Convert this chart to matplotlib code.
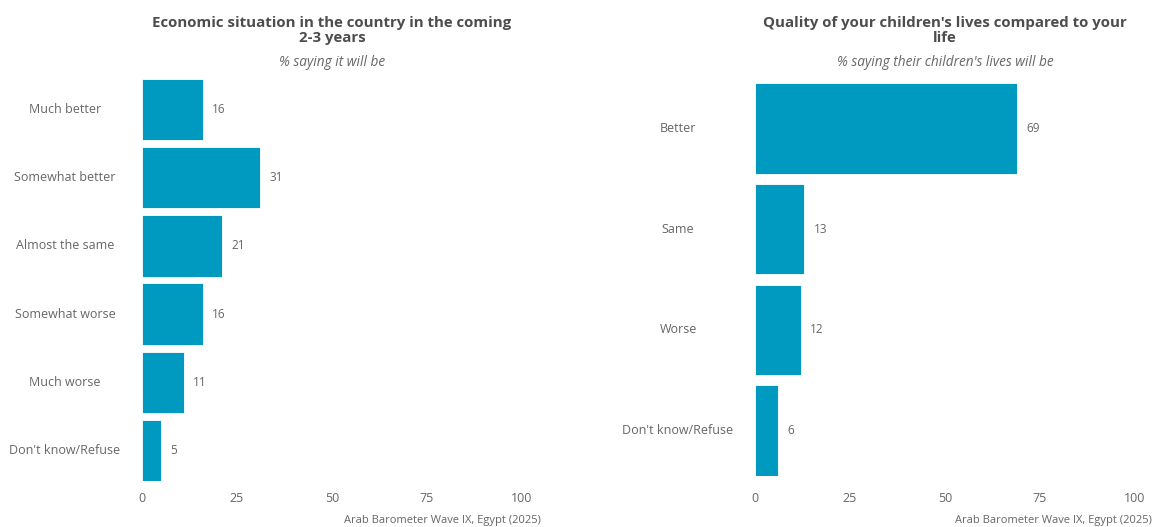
import matplotlib
matplotlib.use("Agg")
import matplotlib.pyplot as plt

plt.rcParams['font.family'] = ['Open Sans', 'DejaVu Sans']

# Economic outlook for the next 2-3 years
econ_categories = ["Much better", "Somewhat better", "Almost the same",
                   "Somewhat worse", "Much worse", "Don't know/Refuse"]
econ_values = [16, 31, 21, 16, 11, 5]

# Children's quality of life compared to respondent's
kids_categories = ["Better", "Same", "Worse", "Don't know/Refuse"]
kids_values = [69, 13, 12, 6]

x_ticks = [0, 25, 50, 75, 100]

BAR = "#0099c0"
TITLE_C = "#4d4d4d"
TEXT_C = "#666666"
W, H = 1153, 527

fig = plt.figure(figsize=(W / 100, H / 100), dpi=100)


def panel(rect_px, cats, vals, title, subtitle, cap_right, tick_pad):
    x0, y_top, x1, y_bot = rect_px
    ax = fig.add_axes([x0 / W, 1 - y_bot / H, (x1 - x0) / W, (y_bot - y_top) / H])
    n = len(cats)
    pos = list(range(n))
    ax.barh(pos, vals, height=0.9, color=BAR, edgecolor="white", linewidth=0.6)
    ax.set_ylim(n - 0.55, -0.45)
    ax.set_xlim(0, 100)
    for p, v in zip(pos, vals):
        ax.text(v + 2.5, p, f"{v}", va="center", ha="left", fontsize=8.5, color=TEXT_C)
    ax.set_xticks(x_ticks)
    ax.set_xticklabels([str(t) for t in x_ticks], fontsize=9, color=TEXT_C)
    ax.set_yticks([])
    ax.tick_params(axis="x", length=0, pad=tick_pad)
    for s in ax.spines.values():
        s.set_visible(False)
    # centred category labels to the left of the bars
    label_cx = (x0 - 77) / W
    for p, c in zip(pos, cats):
        y_fig = ax.transData.transform((0, p))[1] / fig.bbox.height
        fig.text(label_cx, y_fig, c, ha="center", va="center", fontsize=9, color=TEXT_C)
    cx = (x0 + x1) / 2 / W
    fig.text(cx, 1 - 30.5 / H, title, ha="center", va="center", fontsize=10.8,
             fontweight="bold", color=TITLE_C, linespacing=1.15)
    fig.text(cx, 1 - 62.5 / H, subtitle, ha="center", va="center", fontsize=9.8,
             style="italic", color=TEXT_C)
    fig.text(cap_right / W, 1 - 521 / H, "Arab Barometer Wave IX, Egypt (2025)",
             ha="right", va="center", fontsize=8, color=TEXT_C)
    return ax


panel((142, 79, 522, 481), econ_categories, econ_values,
      "Economic situation in the country in the coming\n2-3 years",
      "% saying it will be", 541, 7.6)
panel((755, 83, 1135, 476), kids_categories, kids_values,
      "Quality of your children's lives compared to your\nlife",
      "% saying their children's lives will be", 1152, 11.2)

fig.savefig("out.png", dpi=100, facecolor="white")
